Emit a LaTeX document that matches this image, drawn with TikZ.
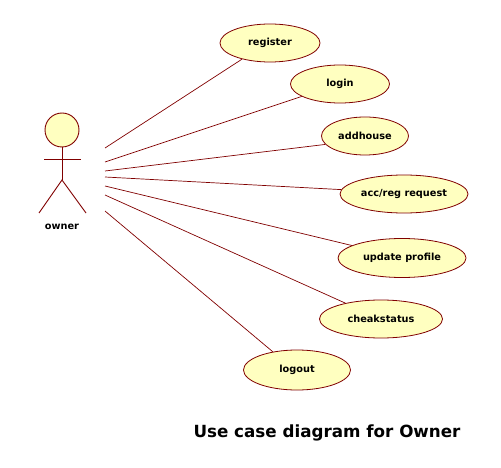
\documentclass[tikz,border=0pt]{standalone}
\usepackage{fontspec}
\setmainfont{DejaVu Sans}
\usetikzlibrary{shapes.geometric}
\definecolor{uline}{HTML}{800000}
\definecolor{ufill}{HTML}{FFFFC0}
\tikzset{
  usecase/.style={ellipse, draw=uline, fill=ufill, line width=0.8bp, inner sep=0pt, font=\bfseries\fontsize{9.8}{11}\selectfont},
  assoc/.style={draw=uline, line width=0.7bp},
  actorline/.style={draw=uline, line width=0.9bp},
}
\begin{document}
\begin{tikzpicture}[x=1bp, y=-1bp]
\useasboundingbox (0,0) rectangle (501,468);
% actor
\node[circle, draw=uline, fill=ufill, line width=0.9bp, minimum size=34bp, inner sep=0pt] (head) at (62,130) {};
\coordinate (hip) at (62,180);
\coordinate (larm) at (44,159);
\coordinate (rarm) at (81,159);
\coordinate (lfoot) at (39,213);
\coordinate (rfoot) at (86,213);
\draw[actorline] (head.south) -- (hip);
\draw[actorline] (larm) -- (rarm);
\draw[actorline] (lfoot) -- (hip) -- (rfoot);
\node[font=\bfseries\fontsize{9.8}{11}\selectfont] (owner) at (62,227) {owner};
% use cases
\node[usecase, minimum width=100bp, minimum height=38bp] (register) at (270,43) {register};
\node[usecase, minimum width=99bp, minimum height=38bp] (login) at (340,84) {login};
\node[usecase, minimum width=87bp, minimum height=38bp] (addhouse) at (365,136) {addhouse};
\node[usecase, minimum width=128bp, minimum height=38bp] (accreg) at (404,194) {acc/reg request};
\node[usecase, minimum width=128bp, minimum height=39bp] (update) at (402,258) {update profile};
\node[usecase, minimum width=123bp, minimum height=38bp] (cheak) at (381,319) {cheakstatus};
\node[usecase, minimum width=107bp, minimum height=40bp] (logout) at (297,370) {logout};
% connector starts
\coordinate (s1) at (105,148);
\coordinate (s2) at (105,162);
\coordinate (s3) at (105,171);
\coordinate (s4) at (105,177);
\coordinate (s5) at (105,186);
\coordinate (s6) at (105,195);
\coordinate (s7) at (105,211);
\draw[assoc] (s1) -- (register.210);
\draw[assoc] (s2) -- (login.198);
\draw[assoc] (s3) -- (addhouse.192);
\draw[assoc] (s4) -- (accreg.176);
\draw[assoc] (s5) -- (update.166);
\draw[assoc] (s6) -- (cheak.156);
\draw[assoc] (s7) -- (logout.143);
% title
\node[font=\bfseries\fontsize{16.8}{19}\selectfont] (title) at (327,433) {Use case diagram for Owner};
\end{tikzpicture}
\end{document}
